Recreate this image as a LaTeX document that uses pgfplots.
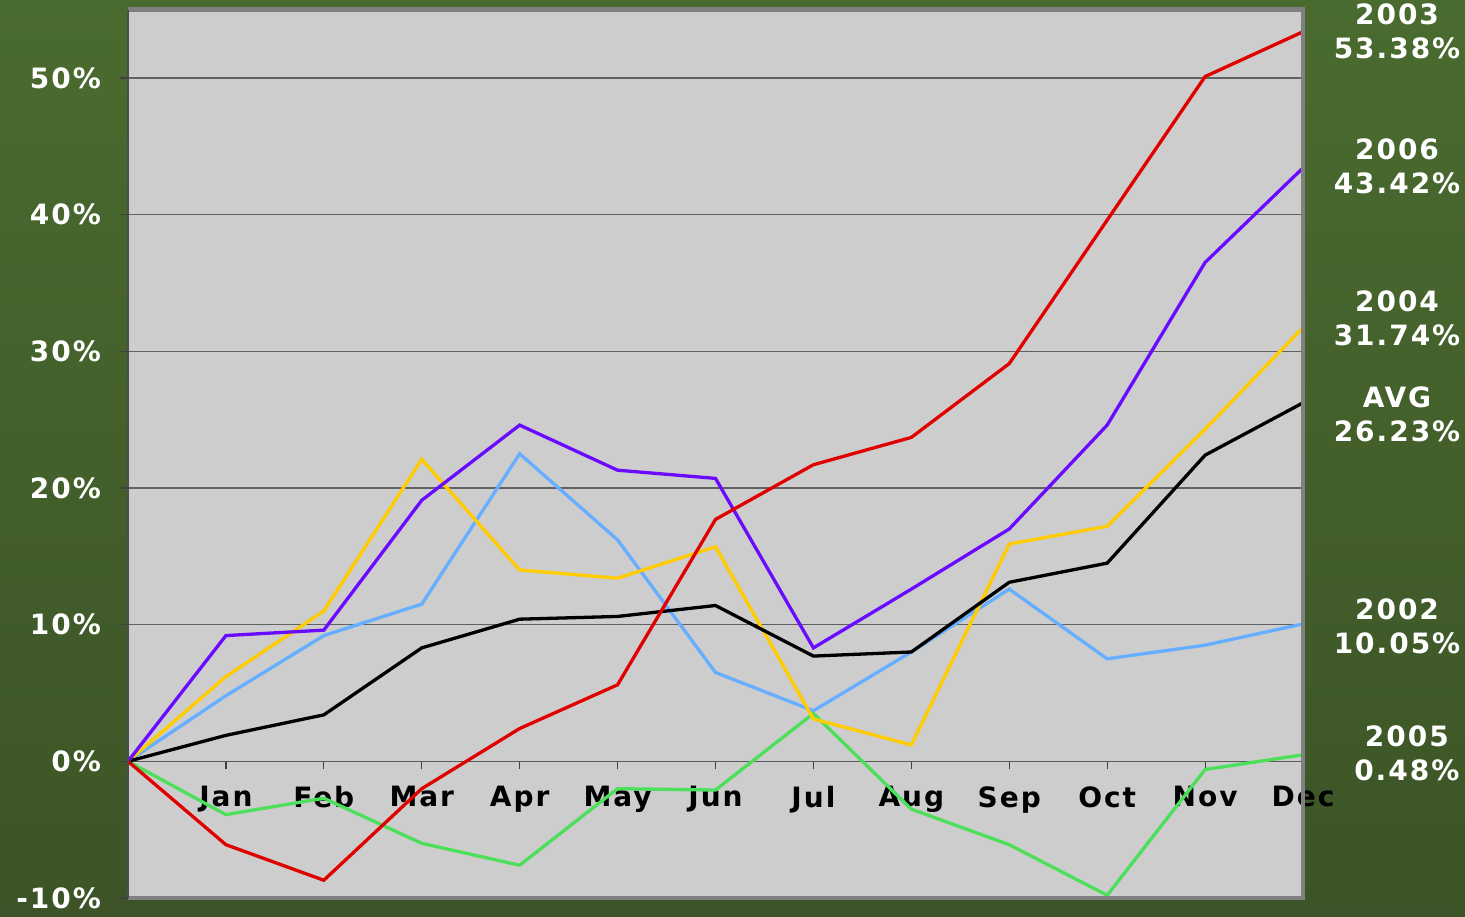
\documentclass[border=0pt]{standalone}
\usepackage{pgfplots}
\pgfplotsset{compat=1.18}
\usepackage{fontspec}
\setmainfont{DejaVu Sans}
\newfontfamily\wide[LetterSpace=7]{DejaVu Sans}
\definecolor{bgtop}{HTML}{4A6B2F}
\definecolor{bgmid}{HTML}{73A049}
\definecolor{bgbot}{HTML}{3C5427}
\definecolor{plotgray}{HTML}{CDCDCD}
\definecolor{framegray}{HTML}{808080}
\definecolor{cred}{HTML}{E00000}
\definecolor{cpurple}{HTML}{6A0AFF}
\definecolor{cyellow}{HTML}{FFCC00}
\definecolor{cblue}{HTML}{66AEFF}
\definecolor{cgreen}{HTML}{4CE05A}
\begin{document}
\begin{tikzpicture}
\shade[top color=bgtop, middle color=bgmid, bottom color=bgbot] (0pt,0pt) rectangle (732.5pt,458pt);
\begin{axis}[
  at={(64pt,9pt)}, anchor=south west,
  scale only axis, width=587.5pt, height=444.2pt,
  xmin=0, xmax=12, ymin=-10, ymax=55,
  axis background/.style={fill=plotgray},
  axis x line=middle, axis y line=left,
  axis line style={-},
  x axis line style={color=black!65, line width=0.6pt},
  y axis line style={color=black!70, line width=1.2pt},
  xtick={1,...,12},
  xticklabels={Jan,Feb,Mar,Apr,May,Jun,Jul,Aug,Sep,Oct,Nov,Dec},
  ytick={-10,0,10,20,30,40,50},
  yticklabels={-10\%,0\%,10\%,20\%,30\%,40\%,50\%},
  tick align=outside,
  major tick length=4pt,
  tick style={color=black!75, line width=0.6pt},
  xticklabel style={font=\fontsize{14}{14}\selectfont\wide\bfseries, text=black, yshift=-5pt},
  yticklabel style={font=\fontsize{14}{14}\selectfont\wide\bfseries, text=white, xshift=-6pt},
  ymajorgrids,
  grid style={color=black!62, line width=0.6pt},
  clip=false,
  every axis plot/.append style={line width=1.65pt, mark=none},
]
% 2002
\addplot[cblue] coordinates {(0,0) (1,4.8) (2,9.2) (3,11.5) (4,22.5) (5,16.2) (6,6.5) (7,3.7) (8,8.0) (9,12.6) (10,7.5) (11,8.5) (12,10.05)};
% 2005
\addplot[cgreen] coordinates {(0,0) (1,-3.9) (2,-2.7) (3,-6.0) (4,-7.6) (5,-2.0) (6,-2.1) (7,3.5) (8,-3.5) (9,-6.1) (10,-9.8) (11,-0.6) (12,0.48)};
% 2004
\addplot[cyellow] coordinates {(0,0) (1,6.2) (2,11.0) (3,22.1) (4,14.0) (5,13.4) (6,15.7) (7,3.1) (8,1.2) (9,15.9) (10,17.2) (11,24.3) (12,31.74)};
% AVG
\addplot[black] coordinates {(0,0) (1,1.9) (2,3.4) (3,8.3) (4,10.4) (5,10.6) (6,11.4) (7,7.7) (8,8.0) (9,13.1) (10,14.5) (11,22.4) (12,26.23)};
% 2006
\addplot[cpurple] coordinates {(0,0) (1,9.2) (2,9.6) (3,19.1) (4,24.6) (5,21.3) (6,20.7) (7,8.3) (8,12.6) (9,17.0) (10,24.6) (11,36.5) (12,43.42)};
% 2003
\addplot[cred] coordinates {(0,0) (1,-6.1) (2,-8.7) (3,-2.0) (4,2.4) (5,5.6) (6,17.7) (7,21.7) (8,23.7) (9,29.1) (10,39.6) (11,50.1) (12,53.38)};
% frame
\draw[framegray, line width=2.2pt] (rel axis cs:0,1) -- (rel axis cs:1,1) -- (rel axis cs:1,0) -- (rel axis cs:0,0);
\draw[black!70, line width=1.2pt] (rel axis cs:0,0) -- (rel axis cs:0,1);
% end labels
\begin{scope}[every node/.style={text=white, align=center, font=\fontsize{14}{17}\selectfont\wide\bfseries}]
\node at (axis cs:12.96,53.4) {2003\\53.38\%};
\node at (axis cs:12.96,43.5) {2006\\43.42\%};
\node at (axis cs:12.96,32.4) {2004\\31.74\%};
\node at (axis cs:12.96,25.4) {AVG\\26.23\%};
\node at (axis cs:12.96,9.9) {2002\\10.05\%};
\node at (axis cs:13.06,0.6) {2005\\0.48\%};
\end{scope}
\end{axis}
\pgfresetboundingbox
\useasboundingbox (0pt,0pt) rectangle (732.5pt,458pt);
\end{tikzpicture}
\end{document}
